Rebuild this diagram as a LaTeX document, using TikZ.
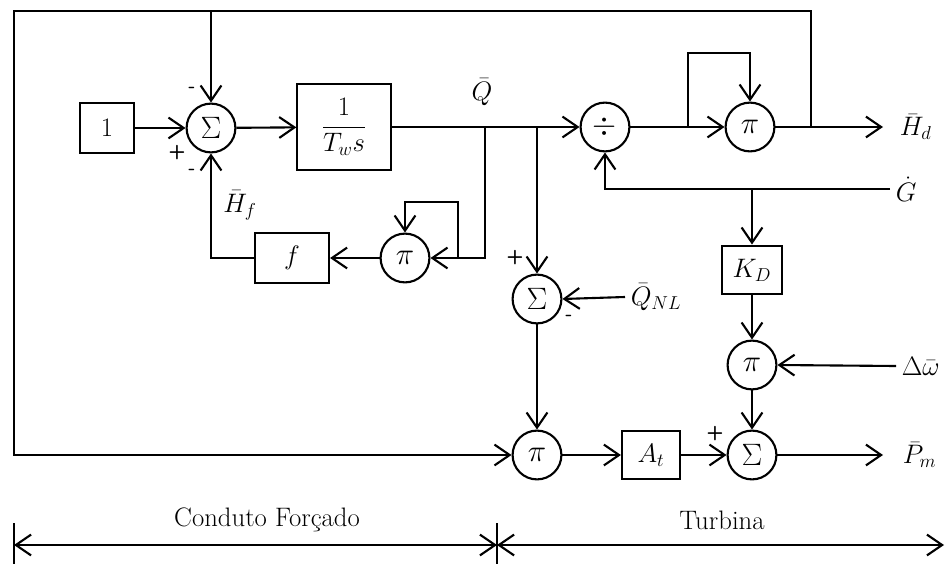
\RequirePackage{fix-cm}
\documentclass[tikz,border=0pt]{standalone}
\usetikzlibrary{arrows.meta}

\tikzset{
  blk/.style={draw, minimum height=1.27cm, inner sep=2pt},
  junc/.style={draw, circle, minimum size=1.22cm, inner sep=0pt, font=\fontsize{22}{26}\selectfont},
  sgn/.style={font=\fontsize{14}{16}\selectfont\bfseries\sffamily, inner sep=0pt},
}

\begin{document}
\begin{tikzpicture}[x=0.025cm, y=-0.025cm, line width=1.5pt,
    >={Straight Barb[length=3.8mm,width=5.2mm]},
    font=\fontsize{19}{22}\selectfont]
  \useasboundingbox (0,0) rectangle (946,564);

  % blocks and junctions
  \node[blk, minimum width=1.35cm] (one) at (107,128) {$1$};
  \node[junc] (s1) at (211,128) {$\Sigma$};
  \node[blk, minimum width=2.33cm, minimum height=2.17cm] (tw) at (344,127) {$\displaystyle\frac{1}{T_w s}$};
  \node[junc] (div) at (605,127) {$\div$};
  \node[junc] (p2) at (750,127) {$\pi$};
  \node[junc] (p1) at (405,258) {$\pi$};
  \node[blk, minimum width=1.85cm] (f) at (292,258) {$f$};
  \node[junc] (s2) at (537,299) {$\Sigma$};
  \node[blk, minimum width=1.48cm, minimum height=1.22cm] (kd) at (752,270) {$K_D$};
  \node[junc] (p4) at (752,365) {$\pi$};
  \node[junc] (p3) at (537,455) {$\pi$};
  \node[blk, minimum width=1.45cm, minimum height=1.22cm] (at) at (651,455) {$A_t$};
  \node[junc] (s3) at (752,455) {$\Sigma$};

  % signal names
  \node (q) at (482,92) {$\bar{Q}$};
  \node (hf) at (240,205) {$\bar{H}_f$};
  \node[anchor=west] (hd) at (894,127) {$\bar{H}_d$};
  \node[anchor=west] (g) at (890,189) {$\dot{G}$};
  \node[anchor=west] (qnl) at (625,297) {$\bar{Q}_{NL}$};
  \node[anchor=west] (dw) at (896,366) {$\Delta\bar{\omega}$};
  \node[anchor=west] (pm) at (897,455) {$\bar{P}_m$};

  % signs
  \foreach \x/\y/\s [count=\i] in {192/90/-,177/153/+,192/172/-,515/258/+,569/318/-,715/434/+}{
    \node[sgn] (sg\i) at (\x,\y) {\s};
  }

  % points on the lines
  \coordinate (hdend) at (883,127);
  \coordinate (pmend) at (883,455);
  \coordinate (tr) at (811,127);
  \coordinate (ctl) at (14,11);
  \coordinate (qb) at (485,127);
  \coordinate (lp) at (458,258);
  \coordinate (qc) at (537,127);
  \coordinate (dl) at (688,127);

  % upper path
  \draw[->] (one) -- (s1);
  \draw[->] (s1) -- (tw);
  \draw[->] (tw.east) -- (div.west);
  \draw[->] (div) -- (p2);
  \draw[->] (p2) -- (hdend);
  \draw[->] (dl) -- ++(0,-74) -| (p2.north);
  \draw[->] (tr) |- (ctl) |- (p3.west);
  \draw[->] (s1 |- ctl) -- (s1.north);
  % friction loop
  \draw[->] (qb) |- (p1.east);
  \draw[->] (lp) -- ++(0,-56) -| (p1.north);
  \draw[->] (p1) -- (f);
  \draw[->] (f.west) -| (s1.south);
  % gate
  \draw[->] (g.west) -| (div.south);
  \draw[->] (kd |- g.west) -- (kd.north);
  \draw[->] (kd) -- (p4);
  \draw[->] (dw.west) -- (p4.east);
  \draw[->] (p4) -- (s3);
  % power
  \draw[->] (qc) -- (s2.north);
  \draw[->] (qnl.west) -- (s2.east);
  \draw[->] (s2) -- (p3);
  \draw[->] (p3) -- (at);
  \draw[->] (at) -- (s3);
  \draw[->] (s3) -- (pmend);

  % sections
  \coordinate (dl0) at (14,545);
  \coordinate (dm) at (497,545);
  \coordinate (dr) at (944,545);
  \draw[<->] (dl0) -- (dm);
  \draw[<->] (dm) -- (dr);
  \draw (dl0) ++(0,-22) -- ++(0,41);
  \draw (dm) ++(0,-22) -- ++(0,41);
  \node (cf) at (267,520) {Conduto Forçado};
  \node (tb) at (722,520) {Turbina};
\end{tikzpicture}
\end{document}
